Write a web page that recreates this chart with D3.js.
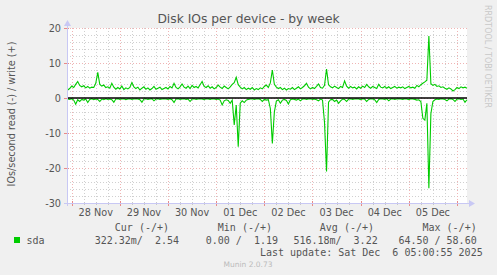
<!DOCTYPE html>
<html>
<head>
<meta charset="utf-8">
<script src="https://cdn.jsdelivr.net/npm/d3@7"></script>
<style>
  html, body { margin: 0; padding: 0; background: #f0f0f0; }
  svg { display: block; }
  text { white-space: pre; }
</style>
</head>
<body>
<svg id="chart" width="497" height="275"></svg>
<script>
// hourly samples, first one at 27 Nov 2025 22:00 UTC
const startTime = Date.UTC(2025, 10, 27, 22, 0);

// writes per second (drawn above zero)
const writeValues = [
  2.3, 2.7, 3.4, 3.0, 3.9, 4.7, 3.6, 3.2, 3.5, 2.9, 3.3, 2.8, 3.1, 3.0, 4.2, 7.3, 3.9, 3.4, 3.7, 3.0,
  3.2, 2.8, 4.2, 3.1, 2.5, 3.0, 2.6, 3.4, 2.4, 2.9, 2.6, 3.0, 4.4, 3.2, 2.7, 3.1, 2.3, 2.8, 3.2, 2.5,
  2.9, 2.3, 2.7, 3.3, 2.5, 2.8, 3.1, 2.4, 2.7, 3.0, 2.6, 3.3, 2.9, 4.2, 3.0, 2.6, 3.2, 4.0, 3.1, 2.8,
  3.4, 2.7, 3.6, 3.0, 3.3, 2.9, 3.8, 4.7, 3.3, 3.0, 3.5, 2.8, 3.2, 2.6, 3.0, 3.7, 3.1, 2.7, 3.4, 3.0,
  2.6, 3.2, 3.9, 4.4, 5.9, 3.8, 3.1, 2.6, 3.0, 2.4, 2.8, 2.5, 3.0, 2.3, 2.7, 2.4, 2.9, 2.6, 3.3, 3.7,
  3.0, 4.3, 8.0, 3.9, 3.1, 2.7, 3.0, 2.4, 2.8, 2.3, 2.7, 2.5, 3.0, 2.4, 2.8, 3.2, 2.6, 3.0, 3.5, 4.2,
  3.1, 2.6, 3.0, 2.7, 3.3, 4.0, 3.0, 2.8, 3.6, 8.3, 3.8, 3.2, 2.9, 3.4, 3.0, 2.7, 3.3, 3.0, 4.9, 3.4,
  2.8, 3.3, 2.9, 3.1, 2.6, 3.2, 2.8, 3.4, 3.0, 3.9, 3.2, 2.8, 3.3, 3.0, 2.7, 3.9, 3.1, 2.9, 3.3, 2.8,
  3.2, 2.7, 3.0, 3.3, 2.8, 3.1, 2.9, 3.2, 2.7, 3.0, 3.3, 2.9, 3.1, 2.8, 3.6, 3.2, 3.8, 4.2, 4.6, 5.1,
  17.7, 4.1, 3.6, 3.9, 3.3, 3.5, 3.0, 3.2, 2.8, 2.5, 2.9, 2.6, 2.0, 2.4, 3.0, 2.7, 3.2, 2.9, 3.1, 2.8
];

// reads per second (drawn below zero)
const readValues = [
  0.3, 0.4, 0.2, 0.6, 1.8, 0.5, 1.0, 0.4, 0.6, 0.3, 1.3, 0.4, 0.2, 0.5, 0.3, 0.4, 1.0, 0.3, 0.5, 0.2,
  0.4, 0.3, 0.5, 1.2, 0.3, 0.2, 0.4, 0.3, 0.2, 0.5, 0.3, 0.2, 0.4, 0.3, 0.2, 0.3, 0.5, 1.2, 0.3, 0.2,
  0.4, 0.3, 0.2, 0.8, 0.3, 0.2, 0.4, 0.3, 0.2, 0.3, 0.4, 0.2, 0.5, 1.3, 0.3, 0.2, 0.4, 0.3, 0.2, 0.4,
  0.3, 1.0, 0.3, 0.2, 0.4, 0.3, 0.2, 0.3, 0.5, 0.2, 0.3, 0.4, 0.2, 0.3, 0.4, 0.3, 0.6, 2.0, 0.8, 0.5,
  0.7, 1.5, 0.6, 7.7, 2.0, 13.9, 1.5, 0.8, 1.3, 0.6, 0.4, 0.3, 0.2, 0.4, 0.3, 0.2, 0.4, 1.0, 0.4, 0.6,
  0.5, 3.0, 13.0, 4.0, 0.9, 0.5, 1.5, 0.6, 0.4, 0.7, 1.7, 0.5, 0.3, 0.4, 0.6, 0.3, 0.8, 0.3, 0.2, 0.4,
  0.3, 0.2, 0.4, 0.3, 0.5, 0.8, 0.3, 0.6, 7.0, 21.0, 1.2, 0.5, 0.4, 1.0, 0.6, 1.5, 0.8, 0.3, 0.4, 1.0,
  0.3, 0.2, 0.4, 0.3, 0.2, 0.3, 0.5, 0.2, 0.3, 1.0, 0.4, 0.2, 0.3, 0.5, 1.3, 0.4, 0.2, 0.3, 0.4, 0.2,
  0.8, 0.3, 0.2, 0.4, 0.3, 0.2, 0.3, 0.4, 0.2, 0.3, 0.5, 0.2, 0.3, 0.4, 0.6, 0.5, 1.0, 5.8, 6.3, 1.5,
  25.8, 4.5, 1.0, 0.5, 0.3, 0.4, 0.2, 0.3, 0.4, 0.8, 0.3, 0.2, 0.4, 1.0, 0.3, 0.2, 0.4, 0.3, 1.2, 0.5
];

const yTicks = [20, 10, 0, -10, -20, -30];
const legendHeaders = ["Cur (-/+)", "Min (-/+)", "Avg (-/+)", "Max (-/+)"];
const legendValues = ["322.32m/  2.54", "0.00 /  1.19", "516.18m/  3.22", "64.50 / 58.60"];
const seriesName = "sda";
const lastUpdate = "Last update: Sat Dec  6 05:00:55 2025";

const plot = { left: 67, right: 467, top: 28, bottom: 203 };
const green = "#00cc00";
const textColor = "#555";

const svg = d3.select("#chart");

const x = d3.scaleUtc()
  .domain([new Date(Date.UTC(2025, 10, 27, 21, 40)), new Date(Date.UTC(2025, 11, 6, 5, 0))])
  .range([plot.left, plot.right]);

const y = d3.scaleLinear()
  .domain([-30, 20])
  .range([plot.bottom, plot.top]);

const times = writeValues.map((_, i) => new Date(startTime + i * 3600e3));

// plot background
svg.append("rect")
  .attr("x", plot.left).attr("y", plot.top)
  .attr("width", plot.right - plot.left).attr("height", plot.bottom - plot.top)
  .attr("fill", "#fff");

// grid
const grid = svg.append("g").attr("shape-rendering", "crispEdges");
const minorY = d3.range(-30, 21, 2).filter(v => v % 10 !== 0);
const minorX = x.ticks(d3.utcHour.every(6)).filter(d => d.getUTCHours() !== 0);
const majorX = x.ticks(d3.utcDay.every(1));
const px = v => Math.round(v) + 0.5;

grid.selectAll(".minor-y").data(minorY).join("line")
  .attr("x1", plot.left).attr("x2", plot.right)
  .attr("y1", d => px(y(d))).attr("y2", d => px(y(d)))
  .attr("stroke", "#d0d0d0").attr("stroke-dasharray", "1,2");

grid.selectAll(".minor-x").data(minorX).join("line")
  .attr("x1", d => px(x(d))).attr("x2", d => px(x(d)))
  .attr("y1", plot.top).attr("y2", plot.bottom)
  .attr("stroke", "#d0d0d0").attr("stroke-dasharray", "1,2");

grid.selectAll(".major-y").data(yTicks).join("line")
  .attr("x1", plot.left).attr("x2", plot.right)
  .attr("y1", d => px(y(d))).attr("y2", d => px(y(d)))
  .attr("stroke", "#efb4b4").attr("stroke-dasharray", "1,2");

grid.selectAll(".major-x").data(majorX).join("line")
  .attr("x1", d => px(x(d))).attr("x2", d => px(x(d)))
  .attr("y1", plot.top).attr("y2", plot.bottom)
  .attr("stroke", "#efb4b4").attr("stroke-dasharray", "1,2");

// axis tick marks
grid.selectAll(".tick-x").data(majorX).join("line")
  .attr("x1", d => px(x(d))).attr("x2", d => px(x(d)))
  .attr("y1", plot.bottom - 2).attr("y2", plot.bottom + 3)
  .attr("stroke", "#e88a8a");
grid.selectAll(".tick-xm").data(minorX).join("line")
  .attr("x1", d => px(x(d))).attr("x2", d => px(x(d)))
  .attr("y1", plot.bottom - 1).attr("y2", plot.bottom + 2)
  .attr("stroke", "#c8c8c8");
grid.selectAll(".tick-y").data(yTicks).join("line")
  .attr("x1", plot.left - 3).attr("x2", plot.left + 2)
  .attr("y1", d => px(y(d))).attr("y2", d => px(y(d)))
  .attr("stroke", "#e88a8a");

// data lines
const writeLine = d3.line()
  .x((d, i) => x(times[i]))
  .y(d => y(d));
const readLine = d3.line()
  .x((d, i) => x(times[i]))
  .y(d => y(-d));

svg.append("path").datum(readValues)
  .attr("d", readLine)
  .attr("fill", "none").attr("stroke", green).attr("stroke-width", 1.1);
svg.append("path").datum(writeValues)
  .attr("d", writeLine)
  .attr("fill", "none").attr("stroke", green).attr("stroke-width", 1.1);

// zero line
svg.append("line")
  .attr("x1", plot.left).attr("x2", plot.right)
  .attr("y1", y(0)).attr("y2", y(0))
  .attr("stroke", "#000").attr("stroke-width", 1.3);

// axes with arrows
const axisColor = "#c8c8f4";
svg.append("line")
  .attr("x1", plot.left + 0.5).attr("x2", plot.left + 0.5)
  .attr("y1", plot.bottom + 3).attr("y2", plot.top - 4)
  .attr("stroke", axisColor);
svg.append("path")
  .attr("d", `M${plot.left - 3},${plot.top - 2} L${plot.left + 0.5},${plot.top - 8} L${plot.left + 4},${plot.top - 2} Z`)
  .attr("fill", axisColor);
svg.append("line")
  .attr("x1", plot.left - 3).attr("x2", plot.right + 4)
  .attr("y1", plot.bottom + 0.5).attr("y2", plot.bottom + 0.5)
  .attr("stroke", axisColor);
svg.append("path")
  .attr("d", `M${plot.right + 2},${plot.bottom - 3} L${plot.right + 8},${plot.bottom + 0.5} L${plot.right + 2},${plot.bottom + 4} Z`)
  .attr("fill", axisColor);

// tick labels
svg.selectAll(".ylabel").data(yTicks).join("text")
  .attr("x", plot.left - 6)
  .attr("y", d => y(d) + 3.5)
  .attr("text-anchor", "end")
  .attr("font-family", "DejaVu Sans")
  .attr("font-size", "9.7px")
  .attr("fill", textColor)
  .text(d => d);

svg.selectAll(".xlabel").data(majorX.slice(0, -1)).join("text")
  .attr("x", d => x(d3.utcHour.offset(d, 12)))
  .attr("y", 216)
  .attr("text-anchor", "middle")
  .attr("font-family", "DejaVu Sans")
  .attr("font-size", "9.7px")
  .attr("fill", textColor)
  .text(d => d3.utcFormat("%d %b")(d));

// titles
svg.append("text")
  .attr("x", 248.5).attr("y", 23)
  .attr("text-anchor", "middle")
  .attr("font-family", "DejaVu Sans")
  .attr("font-size", "12.3px")
  .attr("fill", textColor)
  .text("Disk IOs per device - by week");

svg.append("text")
  .attr("transform", "translate(15,114) rotate(-90)")
  .attr("text-anchor", "middle")
  .attr("font-family", "DejaVu Sans")
  .attr("font-size", "9.7px")
  .attr("fill", textColor)
  .text("IOs/second read (-) / write (+)");

svg.append("text")
  .attr("transform", "translate(485,5) rotate(90)")
  .attr("font-family", "DejaVu Sans")
  .attr("font-size", "8px")
  .attr("fill", "#c8c8c8")
  .text("RRDTOOL / TOBI OETIKER");

// legend
const mono = "DejaVu Sans Mono";
const headerEnds = [169, 272, 374, 476.7];
const valueEnds = [179, 278, 377.7, 476.7];

svg.selectAll(".lh").data(legendHeaders).join("text")
  .attr("x", (d, i) => headerEnds[i]).attr("y", 231)
  .attr("text-anchor", "end")
  .attr("font-family", mono).attr("font-size", "10px")
  .attr("fill", textColor)
  .text(d => d);

svg.selectAll(".lv").data(legendValues).join("text")
  .attr("x", (d, i) => valueEnds[i]).attr("y", 244)
  .attr("text-anchor", "end")
  .attr("font-family", mono).attr("font-size", "10px")
  .attr("fill", textColor)
  .text(d => d);

svg.append("rect")
  .attr("x", 14).attr("y", 237).attr("width", 6).attr("height", 6)
  .attr("fill", green);
svg.append("text")
  .attr("x", 26.5).attr("y", 244)
  .attr("font-family", mono).attr("font-size", "10px")
  .attr("fill", textColor)
  .text(seriesName);

svg.append("text")
  .attr("x", 482.7).attr("y", 255.5)
  .attr("text-anchor", "end")
  .attr("font-family", mono).attr("font-size", "10px")
  .attr("fill", textColor)
  .text(lastUpdate);

svg.append("text")
  .attr("x", 248).attr("y", 267)
  .attr("text-anchor", "middle")
  .attr("font-family", "DejaVu Sans")
  .attr("font-size", "7.5px")
  .attr("fill", "#bbb")
  .text("Munin 2.0.73");
</script>
</body>
</html>
